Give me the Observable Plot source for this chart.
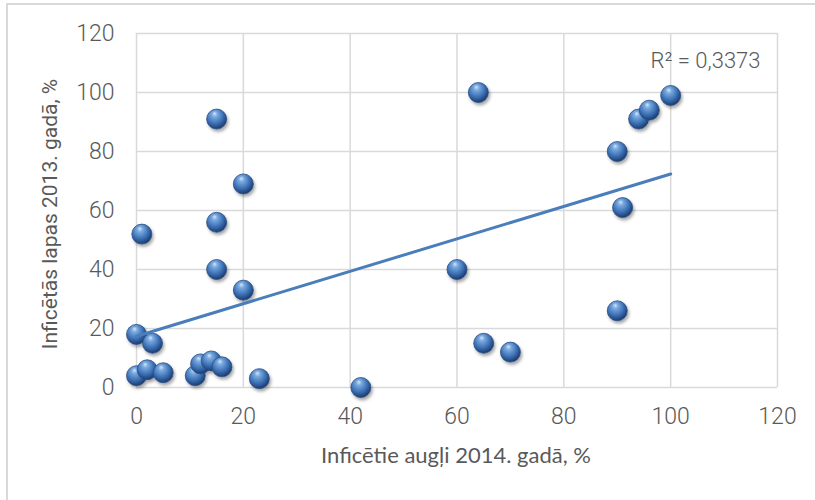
<!DOCTYPE html>
<html>
<head>
<meta charset="utf-8">
<script src="https://cdn.jsdelivr.net/npm/d3@7"></script>
<script src="https://cdn.jsdelivr.net/npm/@observablehq/plot@0.6"></script>
<style>
  html, body { margin: 0; padding: 0; background: #fff; }
  #chart { position: relative; width: 815px; height: 500px; }
</style>
</head>
<body>
<div id="chart"></div>
<script>
// Infected fruits 2014 (%) vs infected leaves 2013 (%)
const fruits2014 = [0, 0, 1, 2, 3, 5, 11, 12, 14, 16, 15, 15, 15, 20, 20, 23, 42, 60, 64, 65, 70, 90, 91, 90, 94, 96, 100];
const leaves2013 = [4, 18, 52, 6, 15, 5, 4, 8, 9, 7, 91, 56, 40, 69, 33, 3, 0, 40, 100, 15, 12, 80, 61, 26, 91, 94, 99];
const xTicks = [0, 20, 40, 60, 80, 100, 120];
const yTicks = [0, 20, 40, 60, 80, 100, 120];
const xLabel = "Inficētie augļi 2014. gadā, %";
const yLabel = "Inficētās lapas 2013. gadā, %";
const r2Label = "R² = 0,3373";

const data = fruits2014.map((x, i) => ({x, y: leaves2013[i]}));

const tickFont = "Roboto, 'Open Sans', sans-serif";

const plot = Plot.plot({
  width: 815,
  height: 500,
  marginLeft: 136,
  marginRight: 38,
  marginTop: 33,
  marginBottom: 113,
  style: {background: "transparent", fontFamily: tickFont, fontSize: "23px", color: "#595959"},
  x: {domain: [0, 120], ticks: xTicks, label: null},
  y: {domain: [0, 120], ticks: yTicks, label: null},
  marks: [
    Plot.gridX(xTicks, {stroke: "#d9d9d9", strokeOpacity: 1, strokeWidth: 1.5}),
    Plot.gridY(yTicks, {stroke: "#d9d9d9", strokeOpacity: 1, strokeWidth: 1.5}),
    Plot.axisX(xTicks, {tickSize: 0, tickPadding: 20, fontSize: 23, fill: "#595959", fontWeight: 300}),
    Plot.axisY(yTicks, {tickSize: 0, tickPadding: 22, fontSize: 23, fill: "#595959", fontWeight: 300}),
    Plot.dot(data, {x: "x", y: "y", r: 10, fill: "#3a6db0", stroke: "#2a4f85", strokeWidth: 0.8}),
    Plot.linearRegressionY(data, {x: "x", y: "y", stroke: "#4a7ebb", strokeWidth: 3, ci: 0}),
    Plot.text([r2Label], {frameAnchor: "top-right", dx: -17, dy: 19, fontSize: 22, fill: "#595959", textAnchor: "end", fontWeight: 300})
  ]
});

const svg = d3.select(plot);
const defs = svg.insert("defs", ":first-child");
const grad = defs.append("radialGradient").attr("id", "ball")
  .attr("cx", "0.42").attr("cy", "0.38").attr("r", "0.62").attr("fx", "0.4").attr("fy", "0.22");
grad.append("stop").attr("offset", "0%").attr("stop-color", "#d4e6fa");
grad.append("stop").attr("offset", "22%").attr("stop-color", "#7aaae0");
grad.append("stop").attr("offset", "65%").attr("stop-color", "#3c70b4");
grad.append("stop").attr("offset", "100%").attr("stop-color", "#1b3b6e");
const f = defs.append("filter").attr("id", "ballShadow").attr("x", "-50%").attr("y", "-50%").attr("width", "200%").attr("height", "200%");
f.append("feDropShadow").attr("dx", 1.5).attr("dy", 2.5).attr("stdDeviation", 1.8).attr("flood-color", "#000").attr("flood-opacity", 0.35);

// style the balls
const ballGroup = svg.selectAll("g[aria-label='dot']");
ballGroup.attr("filter", "url(#ballShadow)").attr("fill", "url(#ball)");
ballGroup.selectAll("circle").attr("fill", "url(#ball)");

// outer chart border
svg.insert("rect", "defs + *")
  .attr("x", 7).attr("y", 4).attr("width", 830).attr("height", 520)
  .attr("fill", "#fff").attr("stroke", "#d9d9d9").attr("stroke-width", 2);

// axis titles
svg.append("text")
  .attr("x", 456).attr("y", 463)
  .attr("text-anchor", "middle")
  .attr("font-family", "Lato, 'Open Sans', sans-serif")
  .attr("font-size", 22).attr("fill", "#595959")
  .text(xLabel);
svg.append("text")
  .attr("transform", "translate(57,214) rotate(-90)")
  .attr("text-anchor", "middle")
  .attr("font-family", "Roboto, 'Open Sans', sans-serif")
  .attr("font-size", 21).attr("fill", "#595959")
  .text(yLabel);

document.getElementById("chart").appendChild(plot);
</script>
</body>
</html>
